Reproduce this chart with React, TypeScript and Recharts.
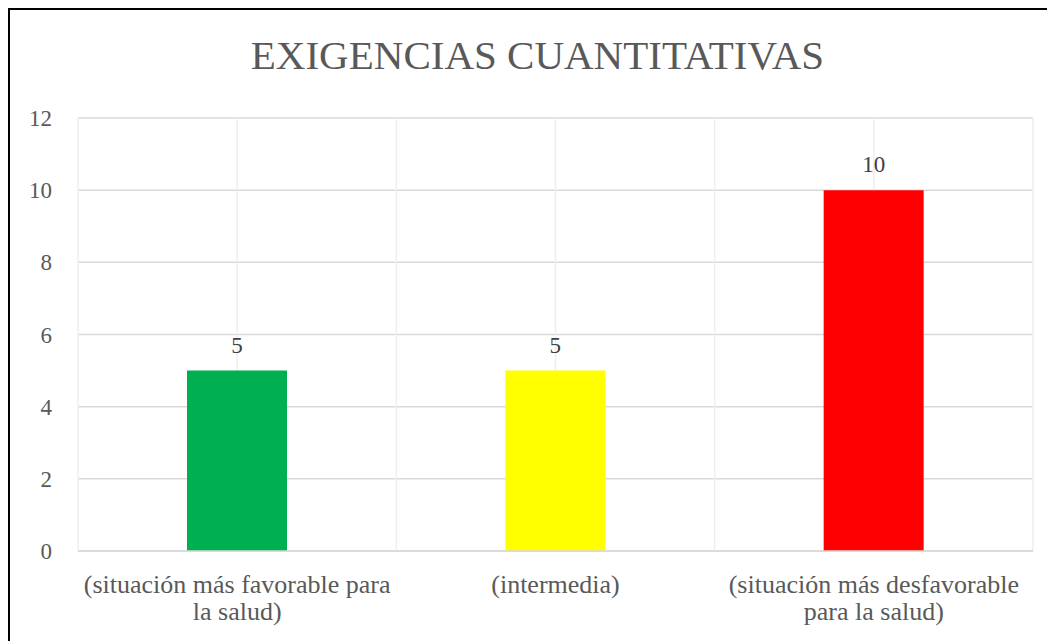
import React from 'react';
import { BarChart, Bar, XAxis, YAxis, CartesianGrid, LabelList, Cell } from 'recharts';

const categories = [
  '(situación más favorable para\nla salud)',
  '(intermedia)',
  '(situación más desfavorable\npara la salud)',
];
const values = [5, 5, 10];
const barColors = ['#00B050', '#FFFF00', '#FF0000'];
const yTicks = [0, 2, 4, 6, 8, 10, 12];
// grid positions in category units: edges and centres of each category
const gridSteps = [0, 0.5, 1, 1.5, 2, 2.5, 3];

const data = categories.map((name, i) => ({ name, value: values[i] }));

const FONT = "'Liberation Serif', 'Times New Roman', serif";

const CategoryTick = (props: any) => {
  const { x, y, payload } = props;
  const lines = String(payload.value).split('\n');
  return (
    <text x={x} y={y} textAnchor="middle" fill="#595959" style={{ fontFamily: FONT }} fontSize={26}>
      {lines.map((line, i) => (
        <tspan key={i} x={x} dy={i === 0 ? 42 : 27}>
          {line}
        </tspan>
      ))}
    </text>
  );
};

const App: React.FC = () => {
  return (
    <div
      style={{
        width: 1047,
        height: 633,
        borderLeft: '2px solid #000',
        borderTop: '2px solid #000',
        boxSizing: 'border-box',
        position: 'relative',
        background: '#fff',
        fontFamily: FONT,
      }}
    >
      <div
        style={{
          position: 'absolute',
          top: 23,
          left: 5,
          width: 1045,
          textAlign: 'center',
          fontSize: 41,
          color: '#595959',
          lineHeight: '44px',
        }}
      >
        EXIGENCIAS CUANTITATIVAS
      </div>
      <BarChart
        width={1045}
        height={631}
        data={data}
        margin={{ top: 108, right: 22, bottom: 0, left: 0 }}
        barCategoryGap={0}
        style={{ fontFamily: FONT }}
      >
        <CartesianGrid horizontal={true} vertical={false} stroke="#D9D9D9" strokeWidth={1.5} />
        <CartesianGrid
          horizontal={false}
          vertical={true}
          stroke="#EEEEEE"
          strokeWidth={1.5}
          verticalCoordinatesGenerator={({ offset }: any) =>
            gridSteps.map((s) => offset.left + (offset.width * s) / categories.length)
          }
        />
        <XAxis
          dataKey="name"
          axisLine={{ stroke: '#D9D9D9', strokeWidth: 1.5 }}
          tickLine={false}
          tickSize={0}
          tickMargin={0}
          height={90}
          interval={0}
          tick={<CategoryTick />}
        />
        <YAxis
          domain={[0, 12]}
          ticks={yTicks}
          width={68}
          axisLine={false}
          tickLine={false}
          tickSize={0}
          tickMargin={26}
          tick={{ fill: '#595959', fontSize: 23, style: { fontFamily: FONT } }}
        />
        <Bar dataKey="value" barSize={100} isAnimationActive={false}>
          {data.map((d, i) => (
            <Cell key={d.name} fill={barColors[i]} />
          ))}
          <LabelList
            dataKey="value"
            position="top"
            offset={18}
            fill="#404040"
            fontSize={23}
            style={{ fontFamily: FONT }}
          />
        </Bar>
      </BarChart>
    </div>
  );
};

export default App;
